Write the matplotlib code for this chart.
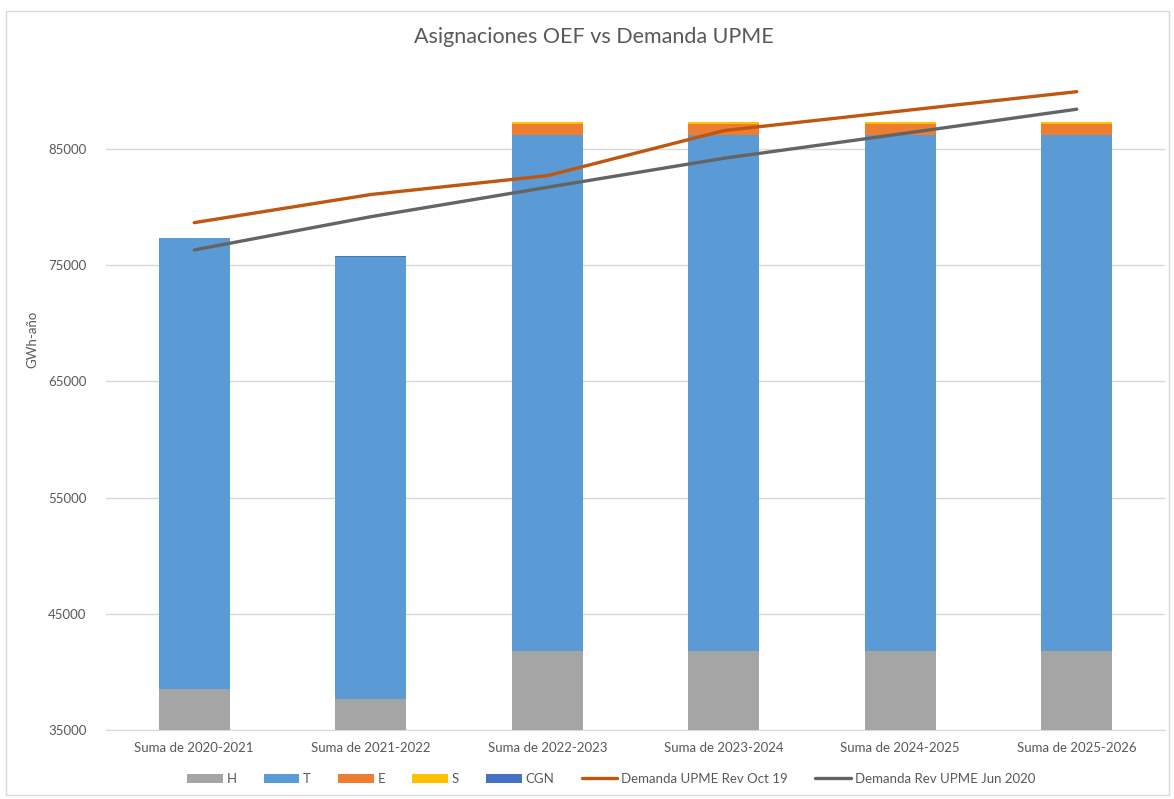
import numpy as np
import matplotlib.pyplot as plt
from matplotlib.patches import Rectangle

# data
periods = ['Suma de 2020-2021', 'Suma de 2021-2022', 'Suma de 2022-2023',
           'Suma de 2023-2024', 'Suma de 2024-2025', 'Suma de 2025-2026']
h_vals = [38530, 37670, 41830, 41830, 41830, 41830]
t_vals = [38840, 38050, 44350, 44350, 44350, 44350]
e_vals = [0, 0, 950, 950, 950, 950]
s_vals = [0, 0, 170, 170, 170, 170]
cgn_vals = [0, 110, 0, 0, 0, 0]
dem_oct19 = [78660, 81080, 82700, 86580, 88260, 89930]
dem_jun20 = [76310, 79170, 81700, 84200, 86290, 88420]
y_ticks = [35000, 45000, 55000, 65000, 75000, 85000]

plt.rcParams['font.family'] = ['Lato', 'DejaVu Sans']

W, H = 1174, 799
fig = plt.figure(figsize=(W / 100, H / 100), dpi=100)
ax = fig.add_axes([106 / W, 1 - 730 / H, (1165 - 106) / W, (730 - 56) / H])

x = np.arange(len(periods))
width = 0.40
series = [('H', h_vals, '#A5A5A5'), ('T', t_vals, '#5B9BD5'),
          ('E', e_vals, '#ED7D31'), ('S', s_vals, '#FFC000'),
          ('CGN', cgn_vals, '#4472C4')]
handles = []
bottom = np.zeros(len(periods))
for name, vals, color in series:
    b = ax.bar(x, vals, width, bottom=bottom, color=color, label=name, zorder=2)
    handles.append(b)
    bottom += np.array(vals)

l1, = ax.plot(x, dem_oct19, color='#C0560F', lw=2.4, label='Demanda UPME Rev Oct 19',
              zorder=3, solid_capstyle='round')
l2, = ax.plot(x, dem_jun20, color='#646464', lw=2.4, label='Demanda Rev UPME Jun 2020',
              zorder=3, solid_capstyle='round')
handles += [l1, l2]

ax.set_xlim(-0.5, len(periods) - 0.5)
ax.set_ylim(35000, 93000)
ax.set_yticks(y_ticks)
ax.set_yticklabels([str(v) for v in y_ticks])
ax.set_xticks(x)
ax.set_xticklabels(periods)
ax.tick_params(axis='both', length=0, labelsize=9.5, labelcolor='#595959')
ax.tick_params(axis='y', pad=14)
ax.tick_params(axis='x', pad=9)
ax.grid(axis='y', color='#D9D9D9', lw=1, zorder=0)
for side in ['top', 'right', 'left']:
    ax.spines[side].set_visible(False)
ax.spines['bottom'].set_color('#D9D9D9')

fig.text(32 / W, 1 - 339 / H, 'GWh-año', rotation=90, ha='center', va='center',
         fontsize=9.5, color='#595959')
fig.text(594 / W, 1 - 37 / H, 'Asignaciones OEF vs Demanda UPME', ha='center',
         va='center', fontsize=15.5, color='#595959')

fig.legend(handles=handles, labels=[h.get_label() for h in handles],
           loc='center', bbox_to_anchor=(611 / W, 1 - 779 / H), ncol=7,
           frameon=False, fontsize=9.5, labelcolor='#595959',
           handlelength=2.7, handleheight=0.7, handletextpad=0.3,
           columnspacing=2.05)

fig.patches.append(Rectangle((6 / W, 1 - 795 / H), (1169 - 6) / W, (795 - 11) / H,
                             transform=fig.transFigure, fill=False,
                             edgecolor='#D9D9D9', lw=1))

fig.savefig('out.png', dpi=100)
